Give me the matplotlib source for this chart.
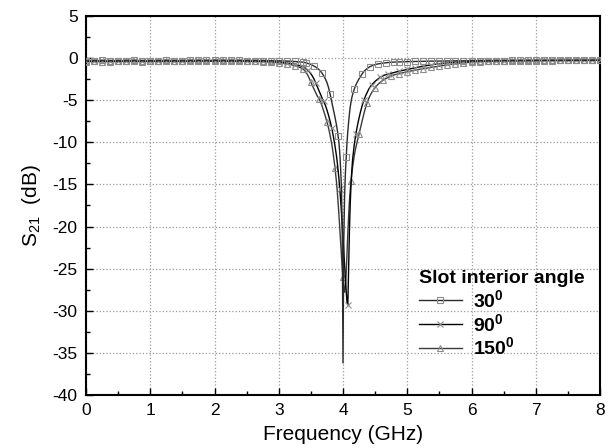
import numpy as np
import matplotlib
matplotlib.use("Agg")
import matplotlib.pyplot as plt
from matplotlib.lines import Line2D
from matplotlib.ticker import MultipleLocator

plt.rcParams['font.family'] = ['Liberation Sans', 'DejaVu Sans']
plt.rcParams['mathtext.default'] = 'regular'
plt.rcParams['axes.unicode_minus'] = False

# frequency sampling grid (GHz): coarse in flat parts, dense around the notch
freq = np.round(np.concatenate([
    np.arange(0, 3.376, 0.125),
    np.arange(3.4, 3.876, 0.025),
    np.arange(3.9, 4.151, 0.0125),
    np.arange(4.175, 4.801, 0.025),
    np.arange(4.875, 8.001, 0.125)]), 4)

# S21 (dB)
s21_30 = [
    -0.32, -0.30, -0.28, -0.30, -0.31, -0.29, -0.28, -0.30, -0.31, -0.29, -0.28, -0.30, -0.30, -0.28,
    -0.27, -0.28, -0.26, -0.27, -0.28, -0.28, -0.29, -0.30, -0.30, -0.31, -0.33, -0.35, -0.40, -0.48,
    -0.52, -0.57, -0.62, -0.68, -0.75, -0.85, -0.95, -1.07, -1.20, -1.35, -1.55, -1.80, -2.10, -2.45,
    -2.90, -3.50, -4.30, -5.20, -6.10, -7.00,
    -8.0, -8.6, -9.3, -10.1, -11.3, -13.0, -15.2, -20.0, -36.2, -21.5, -16.3, -13.6, -11.8, -10.0,
    -8.7, -7.6, -6.6, -5.8, -5.2, -4.7, -4.3,
    -3.70, -3.20, -2.80, -2.45, -2.15, -1.85, -1.60, -1.40, -1.25, -1.10, -1.00, -0.90, -0.83, -0.77,
    -0.72, -0.68, -0.65, -0.62, -0.60, -0.57, -0.55, -0.53, -0.51, -0.50, -0.48, -0.47,
    -0.45, -0.42, -0.40, -0.38, -0.36, -0.35, -0.34, -0.33, -0.32, -0.31, -0.30, -0.30, -0.29,
    -0.29, -0.28, -0.28, -0.28, -0.27, -0.27, -0.26, -0.26, -0.25, -0.25, -0.25, -0.24, -0.24]

s21_90 = [
    -0.38, -0.36, -0.35, -0.36, -0.37, -0.35, -0.34, -0.35, -0.36, -0.35, -0.34, -0.35, -0.36, -0.35,
    -0.33, -0.33, -0.32, -0.33, -0.34, -0.34, -0.35, -0.37, -0.38, -0.41, -0.45, -0.55, -0.72, -1.00,
    -1.10, -1.25, -1.42, -1.62, -1.85, -2.15, -2.50, -2.95, -3.40, -3.85, -4.30, -4.75, -5.15, -5.60,
    -6.15, -6.80, -7.50, -8.30, -9.30, -10.40,
    -11.7, -12.5, -13.4, -14.4, -15.5, -16.8, -18.2, -19.8, -21.4, -23.0, -24.6, -26.2, -27.7, -29.0,
    -29.3, -25.0, -20.5, -17.3, -15.0, -13.3, -12.0,
    -10.3, -9.0, -8.0, -7.1, -6.3, -5.6, -5.0, -4.5, -4.1, -3.7, -3.4, -3.15, -2.95, -2.75,
    -2.60, -2.45, -2.30, -2.20, -2.10, -2.00, -1.95, -1.90, -1.85, -1.80, -1.75, -1.70,
    -1.55, -1.35, -1.15, -0.95, -0.80, -0.66, -0.56, -0.48, -0.42, -0.38, -0.35, -0.33, -0.32,
    -0.31, -0.30, -0.30, -0.29, -0.29, -0.28, -0.28, -0.28, -0.27, -0.27, -0.27, -0.26, -0.26]

s21_150 = [
    -0.42, -0.40, -0.41, -0.42, -0.40, -0.39, -0.40, -0.41, -0.40, -0.38, -0.39, -0.40, -0.40, -0.39,
    -0.37, -0.36, -0.36, -0.37, -0.38, -0.38, -0.38, -0.40, -0.42, -0.47, -0.55, -0.68, -0.88, -1.25,
    -1.45, -1.70, -2.00, -2.40, -2.85, -3.30, -3.70, -4.10, -4.50, -4.80, -5.20, -5.70, -6.30, -6.90,
    -7.60, -8.30, -9.20, -10.20, -11.50, -13.00,
    -14.8, -16.0, -17.3, -18.7, -20.2, -21.8, -23.3, -24.8, -26.0, -27.0, -27.8, -27.2, -25.5, -23.2,
    -20.8, -18.7, -17.0, -15.7, -14.6, -13.7, -12.9,
    -11.6, -10.6, -9.8, -9.0, -8.2, -7.4, -6.6, -5.9, -5.3, -4.8, -4.4, -4.05, -3.75, -3.5,
    -3.28, -3.08, -2.90, -2.75, -2.62, -2.50, -2.40, -2.30, -2.20, -2.12, -2.05, -1.98,
    -1.85, -1.62, -1.42, -1.25, -1.10, -0.95, -0.80, -0.66, -0.56, -0.48, -0.42, -0.38, -0.35,
    -0.33, -0.32, -0.31, -0.30, -0.30, -0.29, -0.29, -0.28, -0.28, -0.28, -0.27, -0.27, -0.27]

labels = [r'30$^{0}$', r'90$^{0}$', r'150$^{0}$']
legend_title = 'Slot interior angle'
xticks = [0, 1, 2, 3, 4, 5, 6, 7, 8]
yticks = [5, 0, -5, -10, -15, -20, -25, -30, -35, -40]


def marker_mask(f, offset):
    dense = (f >= 3.4) & (f <= 4.8)
    k = (f - offset) / 0.125
    on = np.abs(k - np.round(k)) < 1e-6
    k0 = f / 0.125
    on0 = np.abs(k0 - np.round(k0)) < 1e-6
    return np.where(dense, on, on0)


fig = plt.figure(figsize=(6.13, 4.48), dpi=100)
ax = fig.add_axes([86 / 613, 1 - 395 / 448, 514 / 613, 379 / 448])

mk_color = '#8c8c8c'
styles = [
    dict(marker='s', ms=4.2, color='#2a2a2a', off=0.05),
    dict(marker='x', ms=4.5, color='black', off=0.075),
    dict(marker='^', ms=4.5, color='#3a3a3a', off=0.0),
]
series = [s21_30, s21_90, s21_150]

for i in [2, 1, 0]:
    st = styles[i]
    ax.plot(freq, series[i], color=st['color'], lw=1.0, marker=st['marker'], ms=st['ms'],
            mfc='none', mec=mk_color, mew=0.8,
            markevery=list(marker_mask(freq, st['off'])), zorder=3 + (2 - i))

handles = []
for i in range(3):
    st = styles[i]
    handles.append(Line2D([], [], color=st['color'], lw=1.0, marker=st['marker'], ms=st['ms'] + 0.5,
                          mfc='none', mec=mk_color, mew=0.8))

ax.set_xlim(0, 8)
ax.set_ylim(-40, 5)
ax.set_xticks(xticks)
ax.set_yticks(yticks)
ax.xaxis.set_minor_locator(MultipleLocator(0.5))
ax.yaxis.set_minor_locator(MultipleLocator(2.5))
ax.tick_params(which='major', direction='in', length=5, width=1.0, labelsize=12.5, pad=6)
ax.tick_params(which='minor', direction='in', length=3, width=1.0)
ax.tick_params(top=False, right=False, which='both')
for s in ax.spines.values():
    s.set_linewidth(1.5)
ax.grid(True, which='major', linestyle=':', color='#9a9a9a', linewidth=0.9)
ax.set_axisbelow(True)

ax.set_xlabel('Frequency (GHz)', fontsize=15, labelpad=5)
ax.set_ylabel(r'S$_{21}$  (dB)', fontsize=15, labelpad=7)

leg = ax.legend(handles, labels, title=legend_title, loc='upper left',
                bbox_to_anchor=(0.648, 0.33), frameon=False,
                prop={'weight': 'bold', 'size': 14},
                title_fontproperties={'weight': 'bold', 'size': 14},
                handlelength=2.2, handletextpad=0.55, labelspacing=0.1,
                borderpad=0, borderaxespad=0, alignment='left')

fig.savefig('out.png', dpi=100)
